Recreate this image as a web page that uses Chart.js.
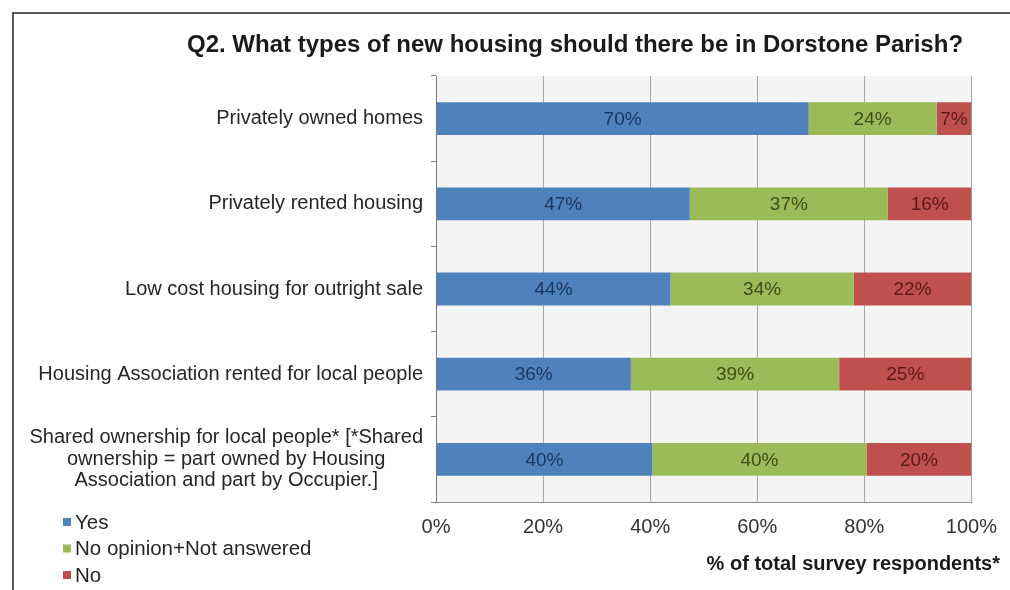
<!DOCTYPE html>
<html>
<head>
<meta charset="utf-8">
<script src="https://cdn.jsdelivr.net/npm/chart.js@4.4.1/dist/chart.umd.min.js"></script>
<style>
  html, body { margin: 0; padding: 0; background: #fff; }
  #frame { position: absolute; left: 12px; top: 12px; width: 1100px; height: 700px;
           border-left: 2px solid #5a5a5a; border-top: 2px solid #5a5a5a; }
  #wrap { position: absolute; left: 0; top: 0; width: 1010px; height: 590px; }
</style>
</head>
<body>
<div id="frame"></div>
<div id="wrap"><canvas id="chart"></canvas></div>
<script>
const categories = [
  ['Privately owned homes'],
  ['Privately rented housing'],
  ['Low cost housing for outright sale'],
  ['Housing Association rented for local people'],
  ['Shared ownership for local people* [*Shared', 'ownership = part owned by Housing', 'Association and part by Occupier.]']
];
const seriesNames = ['Yes', 'No opinion+Not answered', 'No'];
const yesValues = [69.6, 47.4, 43.8, 36.4, 40.4];
const noOpinionValues = [23.9, 37.0, 34.2, 38.9, 40.0];
const noValues = [6.5, 15.6, 22.0, 24.7, 19.6];
const xTicks = [0, 20, 40, 60, 80, 100];

const barColors = ['#4f81bd', '#9bbb59', '#c0504d'];
const labelColors = ['#1b365e', '#3c4f18', '#5a1a18'];
const FONT = '"Liberation Sans", Arial, sans-serif';

const decorPlugin = {
  id: 'decor',
  beforeDraw(chart) {
    const { ctx, chartArea: a } = chart;
    ctx.save();
    ctx.fillStyle = '#f4f4f4';
    ctx.fillRect(a.left, a.top, a.right - a.left, a.bottom - a.top);
    ctx.restore();
  },
  afterDraw(chart) {
    const { ctx, chartArea: a } = chart;
    const yScale = chart.scales.y;
    ctx.save();

    // title
    ctx.fillStyle = '#1a1a1a';
    ctx.font = 'bold 24px ' + FONT;
    ctx.textAlign = 'center';
    ctx.textBaseline = 'middle';
    ctx.fillText('Q2. What types of new housing should there be in Dorstone Parish?', 575, 45);

    // category labels
    ctx.font = '20px ' + FONT;
    ctx.fillStyle = '#262626';
    const lineH = 21.5;
    categories.forEach((lines, i) => {
      const yc = yScale.getPixelForValue(i);
      const widths = lines.map(l => ctx.measureText(l).width);
      const maxW = Math.max(...widths);
      const right = a.left - 13;
      lines.forEach((l, j) => {
        const y = yc + (j - (lines.length - 1) / 2) * lineH;
        if (lines.length > 1) {
          ctx.textAlign = 'center';
          ctx.fillText(l, right - maxW / 2, y);
        } else {
          ctx.textAlign = 'right';
          ctx.fillText(l, right, y);
        }
      });
    });

    // data labels
    ctx.font = '19px ' + FONT;
    ctx.textAlign = 'center';
    chart.data.datasets.forEach((ds, di) => {
      const meta = chart.getDatasetMeta(di);
      ctx.fillStyle = labelColors[di];
      meta.data.forEach((bar, i) => {
        const p = bar.getProps(['x', 'base', 'y'], true);
        ctx.fillText(Math.round(ds.data[i]) + '%', (p.x + p.base) / 2, p.y + 1);
      });
    });

    // axis title
    ctx.font = 'bold 20px ' + FONT;
    ctx.fillStyle = '#1a1a1a';
    ctx.textAlign = 'right';
    ctx.fillText('% of total survey respondents*', 1000, 564);

    // legend
    ctx.font = '20.5px ' + FONT;
    ctx.textAlign = 'left';
    chart.data.datasets.forEach((ds, di) => {
      const y = 522 + di * 26.5;
      ctx.fillStyle = barColors[di];
      ctx.fillRect(63, y - 4, 8, 8);
      ctx.fillStyle = '#262626';
      ctx.fillText(ds.label, 75, y + 1);
    });
    ctx.restore();
  }
};

new Chart(document.getElementById('chart'), {
  type: 'bar',
  data: {
    labels: categories.map(l => l.join(' ')),
    datasets: [
      { label: seriesNames[0], data: yesValues, backgroundColor: barColors[0] },
      { label: seriesNames[1], data: noOpinionValues, backgroundColor: barColors[1] },
      { label: seriesNames[2], data: noValues, backgroundColor: barColors[2] }
    ]
  },
  options: {
    indexAxis: 'y',
    responsive: true,
    maintainAspectRatio: false,
    animation: false,
    layout: { padding: { left: 436, right: 36, top: 76, bottom: 38 } },
    datasets: { bar: { categoryPercentage: 1, barPercentage: 0.385 } },
    plugins: {
      legend: { display: false },
      tooltip: { enabled: false },
      title: { display: false }
    },
    scales: {
      x: {
        stacked: true,
        min: 0,
        max: 100,
        afterBuildTicks(scale) { scale.ticks = xTicks.map(v => ({ value: v })); },
        grid: { color: '#a6a6a6', drawTicks: false },
        border: { color: '#8c8c8c' },
        ticks: {
          padding: 13,
          color: '#333',
          font: { family: FONT, size: 20 },
          callback: v => v + '%'
        }
      },
      y: {
        stacked: true,
        afterFit(scale) { scale.width = 0; },
        grid: { drawOnChartArea: false, offset: true, tickLength: 5, color: '#808080' },
        border: { color: '#7a7a7a' },
        ticks: { display: false }
      }
    }
  },
  plugins: [decorPlugin]
});
</script>
</body>
</html>
